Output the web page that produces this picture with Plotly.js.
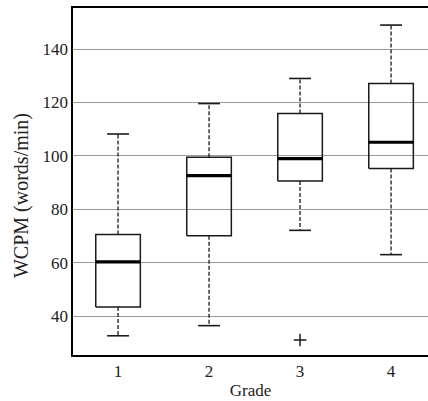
<!DOCTYPE html>
<html>
<head>
<meta charset="utf-8">
<script src="https://cdn.plot.ly/plotly-3.0.1.min.js"></script>
<style>html,body{margin:0;padding:0;background:#fff;}#chart{width:428px;height:401px;}</style>
</head>
<body>
<div id="chart"></div>
<script>
// Data
var grades = [1, 2, 3, 4];
var gradeLabels = ['1', '2', '3', '4'];
var yTickVals = [40, 60, 80, 100, 120, 140];
var lowerWhisker = [32.6, 36.4, 72.1, 63.0];
var q1 = [43.4, 70.1, 90.6, 95.3];
var median = [60.3, 92.6, 99.0, 105.1];
var q3 = [70.5, 99.5, 115.9, 127.1];
var upperWhisker = [108.2, 119.6, 129.0, 149.0];
var outlierGrade = [3];
var outlierValue = [31.0];
var xTitle = 'Grade';
var yTitle = 'WCPM (words/min)';

// Style constants
var boxHalf = 0.245;
var capHalf = 0.12;
var ink = '#1a1a1a';

var traces = [];
var boxX = [], boxY = [], medX = [], medY = [], whX = [], whY = [], capX = [], capY = [];
for (var i = 0; i < grades.length; i++) {
  var g = grades[i];
  boxX.push(g - boxHalf, g + boxHalf, g + boxHalf, g - boxHalf, g - boxHalf, null);
  boxY.push(q1[i], q1[i], q3[i], q3[i], q1[i], null);
  medX.push(g - boxHalf, g + boxHalf, null);
  medY.push(median[i], median[i], null);
  whX.push(g, g, null, g, g, null);
  whY.push(q3[i], upperWhisker[i], null, q1[i], lowerWhisker[i], null);
  capX.push(g - capHalf, g + capHalf, null, g - capHalf, g + capHalf, null);
  capY.push(upperWhisker[i], upperWhisker[i], null, lowerWhisker[i], lowerWhisker[i], null);
}
traces.push({type: 'scatter', mode: 'lines', x: whX, y: whY, line: {color: ink, width: 1.3, dash: '4px,2px'}, hoverinfo: 'skip'});
traces.push({type: 'scatter', mode: 'lines', x: capX, y: capY, line: {color: ink, width: 1.6}, hoverinfo: 'skip'});
traces.push({type: 'scatter', mode: 'lines', x: boxX, y: boxY, line: {color: ink, width: 1.5}, hoverinfo: 'skip'});
traces.push({type: 'scatter', mode: 'lines', x: medX, y: medY, line: {color: '#000', width: 3.2}, hoverinfo: 'skip'});
traces.push({type: 'scatter', mode: 'markers', x: outlierGrade, y: outlierValue,
  marker: {symbol: 'cross-thin-open', size: 9, color: ink, line: {color: ink, width: 1.5}}, hoverinfo: 'skip'});

var layout = {
  width: 428, height: 401,
  margin: {l: 73, r: 0, t: 8, b: 46},
  paper_bgcolor: '#fff', plot_bgcolor: '#fff',
  showlegend: false,
  font: {family: 'Liberation Serif', color: '#222', size: 17},
  xaxis: {
    range: [0.505, 4.406], tickvals: grades, ticktext: gradeLabels,
    showgrid: false, zeroline: false, showline: true, mirror: true,
    linecolor: '#000', linewidth: 1.6, ticks: '',
    tickfont: {family: 'Liberation Serif', size: 17, color: '#222'},
    title: {text: xTitle, font: {family: 'Liberation Serif', size: 17, color: '#222'}, standoff: 4}
  },
  yaxis: {
    range: [25.4, 155.4], tickvals: yTickVals,
    showgrid: true, gridcolor: '#9a9a9a', gridwidth: 1,
    zeroline: false, showline: true, mirror: false,
    linecolor: '#000', linewidth: 1.6, ticks: '',
    tickfont: {family: 'Liberation Serif', size: 17, color: '#222'}
  },
  annotations: [{
    text: yTitle, textangle: -90, showarrow: false,
    xref: 'paper', yref: 'paper', x: -0.1465, y: 0.461,
    xanchor: 'center', yanchor: 'middle',
    font: {family: 'Liberation Serif', size: 20, color: '#222'}
  }]
};
Plotly.newPlot('chart', traces, layout, {displayModeBar: false, staticPlot: true});
</script>
</body>
</html>
